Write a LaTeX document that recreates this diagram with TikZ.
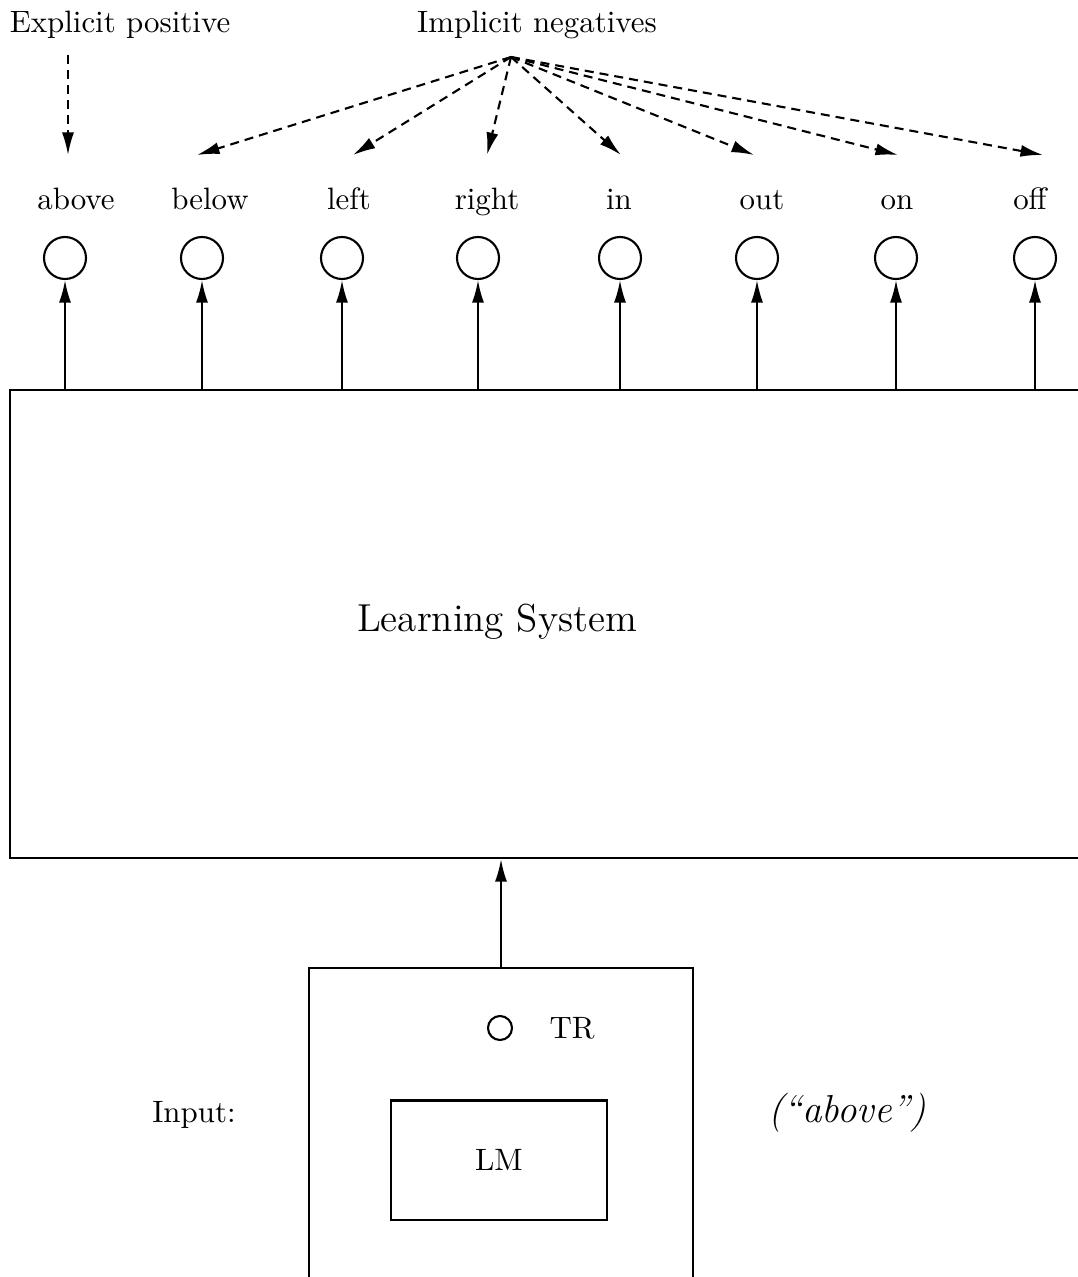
\documentclass[tikz,border=0pt]{standalone}
\usepackage{amsmath}
\usepackage{tikz}
\usetikzlibrary{arrows.meta,positioning}

\tikzset{
  unit/.style={circle, draw, minimum size=14pt, inner sep=0pt},
  dot/.style={circle, draw, minimum size=8pt, inner sep=0pt},
  panel/.style={draw, rectangle, inner sep=0pt},
  hint/.style={dash pattern=on 3pt off 2pt, -{Latex[length=7.5pt,width=4pt]}},
  feed/.style={-{Latex[length=7.5pt,width=4pt]}},
  big/.style={font=\fontsize{13}{15}\selectfont},
}

\begin{document}
\begin{tikzpicture}[x=0.3333pt, y=-0.3333pt, line width=0.7pt,
    font=\fontsize{10.3}{12.5}\selectfont]
    \useasboundingbox (0,0) rectangle (1078,1277);
    \clip (0,0) rectangle (1078,1277);

    \node [anchor=base] (pos) at (120,33) {Explicit positive};
    \node [anchor=base] (neg) at (537,33) {Implicit negatives};
    \coordinate (p0) at (68,55);
    \coordinate (apex) at (511,57);

    \foreach \lbl/\lx/\ux/\tx [count=\i] in {above/76/65/68, below/210/202/197,
      left/349/342/353, right/487/478/487, in/619/620/621, out/762/757/754,
      on/897/896/898, off/1030/1035/1043} {
      \node [anchor=base] (l\i) at (\lx,209) {\lbl};
      \node [unit] (u\i) at (\ux,258) {};
      \coordinate (t\i) at (\tx,155);
    }

    \node [panel, minimum width=360pt, minimum height=156pt] (ls) at (550,624) {};
    \node [big] (title) at (497,622) {Learning System};

    \draw [hint] (p0) -- (t1);
    \foreach \i in {2,...,8}
      \draw [hint] (apex) -- (t\i);
    \foreach \i in {1,...,8}
      \draw [feed] (u\i |- ls.north) -- (u\i);

    % input
    \node [panel, minimum width=128pt, minimum height=111.3pt] (inp) at (501,1135) {};
    \draw [feed] (inp.north) -- (inp.north |- ls.south);
    \node [dot] (tr) at (500,1028) {};
    \node [right=8.5pt of tr] (trlabel) {TR};
    \node [panel, minimum width=72pt, minimum height=39.7pt] (lm) at (499,1160) {LM};
    \node (inlabel) at (194,1115) {Input:};
    \node [font=\fontsize{13}{15}\selectfont\itshape] (word) at (847,1113) {(``above'')};
\end{tikzpicture}
\end{document}
